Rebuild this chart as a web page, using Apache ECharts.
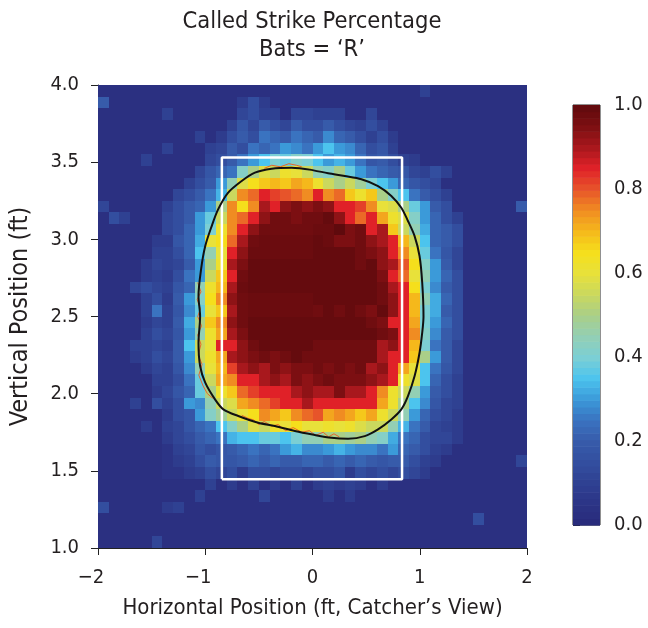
<!DOCTYPE html>
<html>
<head>
<meta charset="utf-8">
<script src="https://cdn.jsdelivr.net/npm/echarts@6/dist/echarts.min.js"></script>
<style>
html,body{margin:0;padding:0;background:#fff;}
#chart{width:648px;height:628px;}
</style>
</head>
<body>
<div id="chart"></div>
<script>
// ---------- DATA ----------
const titleLines = ['Called Strike Percentage', 'Bats = \u2018R\u2019'];
const xAxisName = 'Horizontal Position (ft, Catcher\u2019s View)';
const yAxisName = 'Vertical Position (ft)';
const xTicks = [-2, -1, 0, 1, 2];
const yTicks = [1.0, 1.5, 2.0, 2.5, 3.0, 3.5, 4.0];
const colorbarTicks = [0.0, 0.2, 0.4, 0.6, 0.8, 1.0];

// Bin layout: 40 columns from x=-2 (0.1 ft wide), 40 rows from y=4 downward (0.075 ft tall)
const xBinStart = -2, xBinWidth = 0.1;
const yBinTop = 4, yBinHeight = 0.075;

// Called strike percentage (%) per cell, rows listed from top (y=4.0) to bottom (y=1.0)
const strikePct = [
[3,3,3,3,3,3,3,3,3,3, 3,3,3,3,3,3,3,3,3,3, 3,3,3,3,3,3,3,3,3,3, 10,3,3,3,3,3,3,3,3,3],
[20,3,3,3,3,3,3,3,3,3, 3,3,3,8,15,8,3,3,3,3, 3,3,3,3,3,3,3,3,3,3, 3,3,3,3,3,3,3,3,3,3],
[3,3,3,3,3,3,10,3,3,3, 3,3,3,12,15,10,10,3,12,12, 10,10,10,3,3,12,3,3,3,3, 3,3,3,3,3,3,3,3,3,3],
[3,3,3,3,3,3,3,3,3,3, 3,3,10,18,12,20,15,12,20,15, 15,20,15,12,10,15,10,3,3,3, 3,3,3,3,3,3,3,3,3,3],
[3,3,3,3,3,3,3,3,3,10, 3,8,15,20,15,25,22,20,25,22, 20,28,22,20,15,10,15,8,3,3, 3,3,3,3,3,3,3,3,3,3],
[3,3,3,3,3,3,10,3,3,3, 10,12,20,15,25,22,25,30,28,25, 30,35,30,28,22,15,18,10,3,3, 3,3,3,3,3,3,3,3,3,3],
[3,3,3,3,10,3,3,3,3,3, 12,15,20,25,30,35,40,38,42,40, 35,30,33,30,25,18,20,15,10,8, 3,3,3,3,3,3,3,3,3,3],
[3,3,3,3,3,3,3,3,3,12, 18,22,25,42,50,58,55,62,60,55, 45,42,50,38,30,25,22,20,18,12, 10,15,10,3,3,3,3,3,3,3],
[3,3,3,3,3,3,3,3,10,15, 20,30,45,58,65,68,70,68,72,70, 62,55,50,55,48,40,35,30,22,18, 15,12,3,3,3,3,3,3,3,3],
[3,3,3,3,3,3,3,12,15,20, 25,33,55,75,78,85,82,80,78,75, 85,75,78,68,62,68,50,42,35,25, 20,15,10,3,3,3,3,3,3,3],
[12,3,3,3,3,3,10,15,20,22, 30,50,75,65,75,90,85,93,95,93, 95,93,85,85,82,75,60,58,50,38, 30,20,15,3,3,3,3,3,3,20],
[3,15,10,3,3,3,12,15,20,30, 38,55,75,78,85,93,97,97,95,97, 97,99,93,85,78,85,72,62,58,42, 30,22,15,10,3,3,3,3,3,3],
[3,3,3,3,3,3,12,15,22,30, 40,62,75,85,93,97,97,97,97,97, 98,98,100,95,97,85,90,68,55,45, 32,22,20,15,3,3,3,3,3,3],
[3,3,3,3,3,8,8,18,22,32, 60,65,78,90,97,98,98,98,98,98, 99,98,95,95,97,93,90,85,70,55, 35,22,20,15,3,3,3,3,3,3],
[3,3,3,3,3,10,10,15,22,35, 45,60,85,93,98,98,98,98,98,98, 99,99,99,99,97,95,93,85,75,60, 38,25,18,12,3,3,3,3,3,3],
[3,3,3,3,8,12,10,12,20,30, 50,62,90,95,99,99,99,99,99,99, 99,99,99,99,97,99,93,90,80,65, 42,30,20,12,3,3,3,3,3,3],
[3,3,3,3,8,10,8,15,25,30, 55,68,85,97,99,99,99,99,99,99, 99,99,99,99,99,99,95,85,78,60, 45,30,22,15,3,3,3,3,3,3],
[3,3,3,12,15,12,10,18,22,45, 62,70,90,98,99,99,99,99,99,99, 99,99,99,99,99,99,97,90,85,65, 40,28,20,15,3,3,3,3,3,3],
[3,3,3,3,10,15,8,20,30,42, 65,75,93,97,98,98,98,98,98,98, 99,99,99,99,99,99,97,93,85,70, 45,32,22,15,3,3,3,3,3,3],
[3,3,3,3,10,25,10,18,28,38, 60,68,90,97,98,98,98,98,98,98, 97,99,97,99,97,95,99,93,85,70, 40,32,20,15,3,3,3,3,3,3],
[3,3,3,3,8,12,10,20,32,50, 68,75,93,97,99,99,99,99,99,99, 99,99,99,99,99,97,95,85,85,72, 40,30,22,15,3,3,3,3,3,3],
[3,3,3,3,10,15,12,18,30,45, 62,72,90,95,99,99,99,99,99,99, 99,99,99,99,99,99,97,95,85,75, 42,28,20,15,3,3,3,3,3,3],
[3,3,3,10,10,12,10,20,35,55, 60,85,85,93,97,99,99,99,99,99, 97,97,97,97,97,97,90,93,85,70, 40,25,20,12,3,3,3,3,3,3],
[3,3,3,8,10,15,12,20,30,55, 62,72,90,93,95,97,95,97,99,97, 97,97,97,97,97,97,90,85,85,68, 50,30,20,12,3,3,3,3,3,3],
[3,3,3,3,8,12,10,18,28,45, 60,70,82,90,93,90,95,93,95,95, 97,95,97,95,97,90,93,85,72,60, 35,25,18,12,3,3,3,3,3,3],
[3,3,3,3,3,10,10,15,25,38, 55,72,75,85,85,90,93,90,95,93, 95,97,95,95,95,93,90,85,62,58, 35,22,15,10,3,3,3,3,3,3],
[3,3,3,3,3,8,12,18,22,38, 50,62,68,78,82,85,85,85,90,93, 90,90,95,90,90,85,75,62,55,45, 30,20,15,10,3,3,3,3,3,3],
[3,3,3,10,3,15,10,15,30,28, 45,55,58,72,75,78,82,85,85,90, 85,85,85,85,85,85,72,62,50,35, 28,18,12,10,3,3,3,3,3,3],
[3,3,3,3,3,3,8,15,18,30, 42,48,55,60,65,75,72,68,75,78, 80,72,75,72,68,72,62,55,45,30, 22,15,12,8,3,3,3,3,3,3],
[3,3,3,3,8,3,10,12,18,22, 25,35,42,50,58,55,62,60,65,60, 60,62,60,62,58,55,55,45,33,25, 20,12,10,8,3,3,3,3,3,3],
[3,3,3,3,3,3,8,12,15,20, 22,25,33,35,35,38,38,35,40,45, 45,50,50,48,50,45,42,32,25,22, 15,12,12,8,3,3,3,3,3,3],
[3,3,3,3,3,3,5,10,12,18, 15,18,20,22,25,22,25,30,33,28, 28,30,33,30,28,28,25,30,22,20, 15,10,8,3,3,3,3,3,3,3],
[3,3,3,3,3,3,5,8,10,15, 20,18,18,20,22,20,22,20,20,22, 22,20,22,20,22,20,18,20,20,15, 10,8,3,3,3,3,3,3,3,12],
[3,3,3,3,3,3,5,5,8,10, 15,12,15,8,15,15,12,15,15,12, 15,15,18,8,15,12,15,12,15,12, 8,3,3,3,3,3,3,3,3,3],
[3,3,3,3,3,3,3,3,3,3, 10,3,8,3,10,3,8,3,10,3, 8,10,8,10,8,3,8,3,3,3, 3,3,3,3,3,3,3,3,3,3],
[3,3,3,3,3,3,3,3,3,10, 3,3,3,3,3,12,3,3,3,3, 3,8,3,8,3,3,3,3,3,3, 3,3,3,3,3,3,3,3,3,3],
[15,3,3,3,3,3,8,10,3,3, 3,3,3,3,3,3,3,3,3,3, 3,3,3,3,3,3,3,3,3,3, 3,3,3,3,3,3,3,3,3,3],
[3,3,3,3,3,3,3,3,3,3, 3,3,3,3,3,3,3,3,3,3, 3,3,3,3,3,3,3,3,3,3, 3,3,3,3,3,15,3,3,3,3],
[3,3,3,3,3,3,3,3,3,3, 3,3,3,3,3,3,3,3,3,3, 3,3,3,3,3,3,3,3,3,3, 3,3,3,3,3,3,3,3,3,3],
[3,3,3,3,3,12,3,3,3,3, 3,3,3,3,3,3,3,3,3,3, 3,3,3,3,3,3,3,3,3,3, 3,3,3,3,3,3,3,3,3,3]
];

// Strike zone (ft)
const zoneX = [-0.845, 0.835];
const zoneY = [1.445, 3.53];

// Smoothed 50% contour (black), traced clockwise
const contourX = [-0.01,0.146,0.301,0.456,0.611,0.735,0.828,0.89,0.952,0.998,1.023,1.035,1.023,0.998,0.952,0.89,0.828,0.735,0.611,0.487,0.332,0.177,0.0,-0.165,-0.351,-0.506,-0.692,-0.831,-0.909,-1.0,-1.048,-1.063,-1.048,-1.063,-1.039,-1.0,-0.94,-0.88,-0.79,-0.66,-0.537,-0.381,-0.195,-0.01];
const contourY = [3.45,3.428,3.41,3.389,3.345,3.281,3.205,3.119,3.021,2.892,2.719,2.5,2.395,2.265,2.114,1.984,1.898,1.833,1.769,1.725,1.708,1.714,1.735,1.758,1.79,1.811,1.855,1.898,1.963,2.071,2.179,2.33,2.5,2.633,2.806,2.957,3.086,3.194,3.3,3.378,3.432,3.458,3.464,3.45];

// Raw 50% contour pieces (thin orange)
const rawLeftX = [-1.07,-1.04,-1.075,-1.045,-1.07,-1.035,-1.07,-1.04,-1.065,-1.03,-1.06,-1.02,-0.98,-0.93];
const rawLeftY = [2.72,2.66,2.61,2.55,2.50,2.44,2.38,2.32,2.25,2.19,2.12,2.05,2.0,1.97];
const rawBottomX = [-0.66,-0.6,-0.55,-0.5,-0.45,-0.38,-0.32,-0.25,-0.18,-0.1,-0.03,0.03,0.1,0.15,0.2,0.25];
const rawBottomY = [1.86,1.84,1.83,1.80,1.82,1.79,1.80,1.76,1.78,1.75,1.76,1.73,1.75,1.72,1.74,1.72];
const rawTopX = [-0.45,-0.38,-0.3,-0.22,-0.15,-0.1];
const rawTopY = [3.46,3.48,3.47,3.49,3.48,3.47];

// Colormap (evenly spaced stops from 0 to 1)
const cmap = ['#292a7a','#2c3486','#2f4192','#334e9f','#375baa','#3a73c0','#3b9ad9','#4cc4ee','#7ccfd4','#93cfb4','#aacf88','#cad85e','#e8e13a','#f5df1c','#f5b81b','#f08c22','#e7542a','#e02128','#a8181d','#7c0f12','#5f0a0d'];

// ---------- BUILD ----------
const FONT = '"Liberation Sans Narrow", "DejaVu Sans Condensed", sans-serif';
const TXT = '#231f20';

const cells = [];
strikePct.forEach((row, r) => {
  row.forEach((v, c) => {
    cells.push([xBinStart + c * xBinWidth, yBinTop - (r + 1) * yBinHeight, v / 100]);
  });
});
const zip = (xs, ys) => xs.map((x, i) => [x, ys[i]]);

const nBands = 64;
const bands = [];
for (let i = 0; i < nBands; i++) bands.push([i / nBands, (i + 1) / nBands, (i + 0.5) / nBands]);

const chart = echarts.init(document.getElementById('chart'), null, {renderer: 'canvas'});

const fmt1 = v => v.toFixed(1);
// negative labels: digit centred on the tick, minus sign hanging to the left
const fmtMinus = v => (v < 0 ? '\u2212' + Math.abs(v) + '{s|}' : String(v));

const TICK_FS = 20;
const option = {
  animation: false,
  backgroundColor: '#ffffff',
  textStyle: {fontFamily: FONT},
  grid: [
    {left: 97, top: 85, width: 430, height: 463, show: false},
    {left: 573, top: 105, width: 27, height: 420, show: true, borderColor: '#222', borderWidth: 1, backgroundColor: 'transparent'}
  ],
  xAxis: [
    {gridIndex: 0, type: 'value', min: -2, max: 2, interval: 1,
     name: xAxisName, nameLocation: 'middle', nameGap: 49,
     nameTextStyle: {fontSize: 22, color: TXT, fontFamily: FONT},
     axisLine: {show: true, onZero: false, lineStyle: {color: '#222', width: 1}},
     axisTick: {show: true, length: 7, lineStyle: {color: '#222'}},
     axisLabel: {fontSize: TICK_FS, color: TXT, fontFamily: FONT, margin: 20, formatter: fmtMinus,
                 rich: {s: {width: 14, fontSize: TICK_FS}}},
     splitLine: {show: false}},
    {gridIndex: 1, type: 'value', min: 0, max: 1, show: false}
  ],
  yAxis: [
    {gridIndex: 0, type: 'value', min: 1, max: 4, interval: 0.5,
     name: yAxisName, nameLocation: 'middle', nameGap: 65, nameRotate: 90,
     nameTextStyle: {fontSize: 25, color: TXT, fontFamily: FONT},
     axisLine: {show: true, onZero: false, lineStyle: {color: '#222', width: 1}},
     axisTick: {show: true, length: 7, lineStyle: {color: '#222'}},
     axisLabel: {fontSize: TICK_FS, color: TXT, fontFamily: FONT, margin: 19, formatter: fmt1},
     splitLine: {show: false}},
    {gridIndex: 1, type: 'value', min: 0, max: 1, interval: 0.2, position: 'right',
     axisLine: {show: false},
     axisTick: {show: true, length: 7, lineStyle: {color: '#222'}},
     axisLabel: {fontSize: TICK_FS, color: TXT, fontFamily: FONT, margin: 14, formatter: fmt1},
     splitLine: {show: false}}
  ],
  visualMap: {
    type: 'continuous', show: false, min: 0, max: 1, dimension: 2,
    seriesIndex: [0, 1], inRange: {color: cmap}
  },
  series: [
    {
      type: 'custom', xAxisIndex: 0, yAxisIndex: 0, data: cells, z: 1,
      renderItem: function (params, api) {
        const x0 = api.value(0), y0 = api.value(1);
        const p1 = api.coord([x0, y0 + yBinHeight]);
        const p2 = api.coord([x0 + xBinWidth, y0]);
        const x = Math.round(p1[0]), y = Math.round(p1[1]);
        return {type: 'rect', shape: {x: x, y: y, width: Math.round(p2[0]) - x, height: Math.round(p2[1]) - y},
                style: {fill: api.visual('color')}};
      }
    },
    {
      type: 'custom', xAxisIndex: 1, yAxisIndex: 1, data: bands, z: 1,
      renderItem: function (params, api) {
        const p1 = api.coord([0, api.value(1)]);
        const p2 = api.coord([1, api.value(0)]);
        return {type: 'rect', shape: {x: p1[0], y: p1[1], width: p2[0] - p1[0], height: p2[1] - p1[1] + 0.6},
                style: {fill: api.visual('color')}};
      }
    },
    {type: 'line', xAxisIndex: 0, yAxisIndex: 0, data: zip(rawLeftX, rawLeftY), showSymbol: false, z: 3,
     lineStyle: {color: '#e8642a', width: 1}},
    {type: 'line', xAxisIndex: 0, yAxisIndex: 0, data: zip(rawBottomX, rawBottomY), showSymbol: false, z: 3,
     lineStyle: {color: '#e8642a', width: 1}},
    {type: 'line', xAxisIndex: 0, yAxisIndex: 0, data: zip(rawTopX, rawTopY), showSymbol: false, z: 3,
     lineStyle: {color: '#e8642a', width: 1}},
    {type: 'line', xAxisIndex: 0, yAxisIndex: 0, z: 4, showSymbol: false,
     data: [[zoneX[0], zoneY[0]], [zoneX[1], zoneY[0]], [zoneX[1], zoneY[1]], [zoneX[0], zoneY[1]], [zoneX[0], zoneY[0]]],
     lineStyle: {color: '#ffffff', width: 2.5}},
    {type: 'line', xAxisIndex: 0, yAxisIndex: 0, z: 5, showSymbol: false, smooth: 0.3,
     data: zip(contourX, contourY), lineStyle: {color: '#111', width: 2}}
  ],
  graphic: [
    {type: 'text', x: 312, y: 22, z: 10, style: {text: titleLines[0], fill: TXT, font: '23.5px ' + FONT, align: 'center', textAlign: 'center', verticalAlign: 'middle', textVerticalAlign: 'middle'}},
    {type: 'text', x: 312, y: 50, z: 10, style: {text: titleLines[1], fill: TXT, font: '23.5px ' + FONT, align: 'center', textAlign: 'center', verticalAlign: 'middle', textVerticalAlign: 'middle'}}
  ]
};
chart.setOption(option);
</script>
</body>
</html>
